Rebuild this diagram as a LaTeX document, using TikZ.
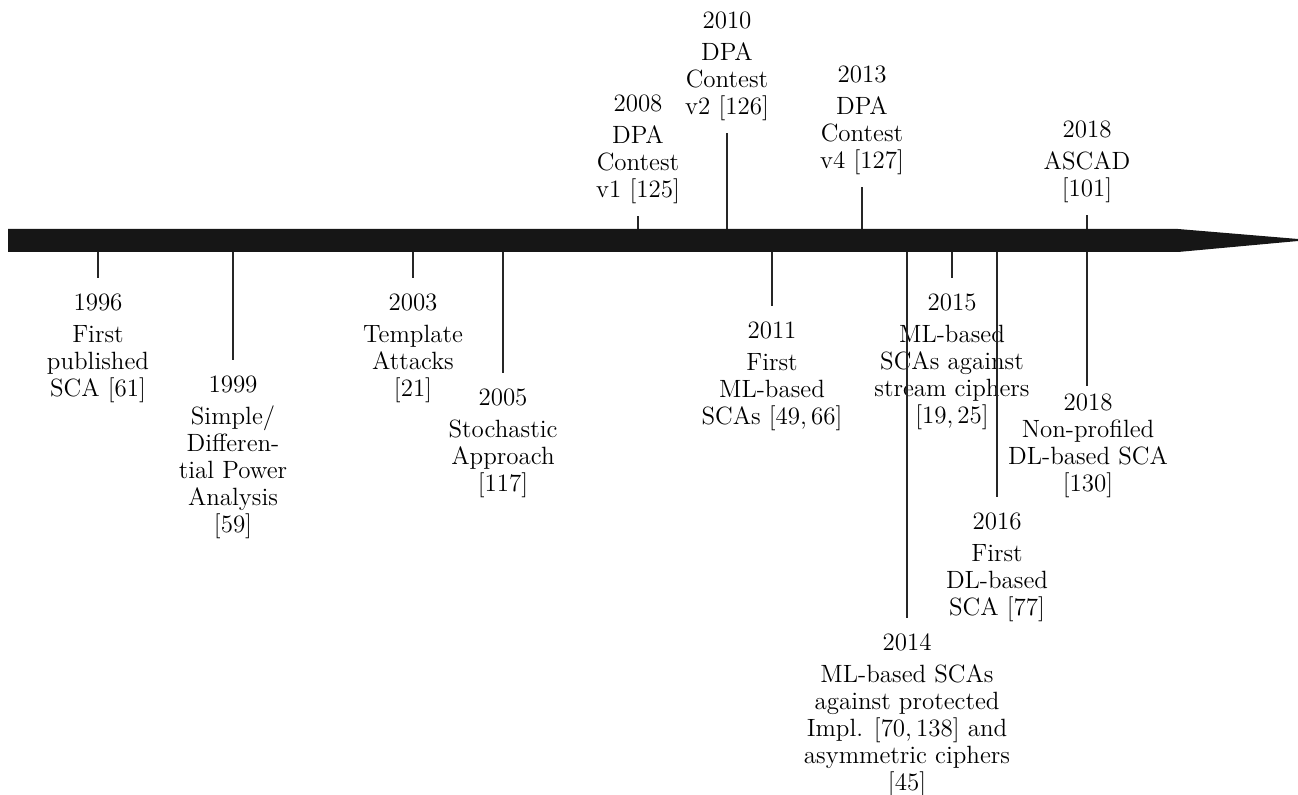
\documentclass[tikz,border=0pt]{standalone}
\begin{document}
\begin{tikzpicture}[
  x=0.44444pt, y=-0.44444pt,
  event/.style={inner sep=0pt, align=center, anchor=north,
    font=\fontsize{11.1}{12}\selectfont},
  eventup/.style={event},
  tick/.style={draw=black!85, line width=0.55pt},
  tickdown/.style={tick, shorten >=6.7pt},
  tickup/.style={tick, shorten >=5.5pt},
]
\definecolor{barcol}{RGB}{22,22,22}
\path[use as bounding box] (0,0) rectangle (1298,795);

% anchor points on the time bar (45 units per year, 1996 at x = 98)
\foreach \yr/\xx in {1996/98, 1999/233, 2003/413, 2005/503, 2011/772,
                     2014/907, 2015/952, 2016/997, 2018/1087}
  \coordinate (lo\yr) at (\xx,252);
\foreach \yr/\xx in {2008/638, 2010/727, 2013/862, 2018/1087}
  \coordinate (hi\yr) at (\xx,229);

% events below the bar
\node[event] (e1996) at (98,293)  {1996\\[2.2pt]First\\published\\SCA [61]};
\node[event] (e1999) at (233,375) {1999\\[2.2pt]Simple/\\Differen-\\tial Power\\Analysis\\{}[59]};
\node[event] (e2003) at (413,293) {2003\\[2.2pt]Template\\Attacks\\{}[21]};
\node[event] (e2005) at (503,388) {2005\\[2.2pt]Stochastic\\Approach\\{}[117]};
\node[event] (e2011) at (772,321) {2011\\[2.2pt]First\\ML-based\\SCAs [49,\,66]};
\node[event] (e2014) at (907,633) {2014\\[2.2pt]ML-based SCAs\\against protected\\Impl. [70,\,138] and\\asymmetric ciphers\\{}[45]};
\node[event] (e2015) at (952,293) {2015\\[2.2pt]ML-based\\SCAs against\\stream ciphers\\{}[19,\,25]};
\node[event] (e2016) at (997,512) {2016\\[2.2pt]First\\DL-based\\SCA [77]};
\node[event] (e2018b) at (1088,393) {2018\\Non-profiled\\DL-based SCA\\{}[130]};

% events above the bar
\node[eventup] (e2008) at (638,94)  {2008\\[2.2pt]DPA\\Contest\\v1 [125]};
\node[eventup] (e2010) at (727,11)  {2010\\[2.2pt]DPA\\Contest\\v2 [126]};
\node[eventup] (e2013) at (862,65)  {2013\\[2.2pt]DPA\\Contest\\v4 [127]};
\node[eventup] (e2018a) at (1087,120) {2018\\[2.2pt]ASCAD\\{}[101]};

% connectors
\foreach \yr in {1996,1999,2003,2005,2011,2014,2015,2016}
  \draw[tickdown] (lo\yr) -- (lo\yr |- e\yr.north);
\draw[tick, shorten >=3pt] (lo2018) -- (lo2018 |- e2018b.north);
\foreach \yr in {2008,2010,2013}
  \draw[tickup] (hi\yr) -- (hi\yr |- e\yr.south);
\draw[tickup] (hi2018) -- (hi2018 |- e2018a.south);

% the time bar with its arrow head
\fill[barcol] (8,229) -- (1178,229) -- (1298,239) -- (1298,241)
  -- (1178,252) -- (8,252) -- cycle;
\end{tikzpicture}
\end{document}
